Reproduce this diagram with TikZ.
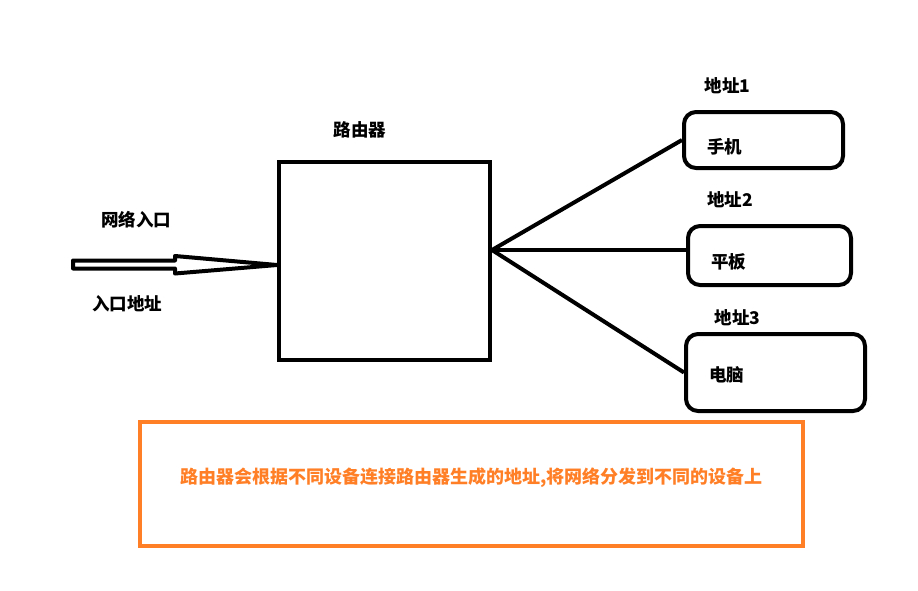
\documentclass[tikz,border=0pt]{standalone}
\usepackage{fontspec}
\setmainfont{Noto Sans CJK SC}
\usepackage{tikz}
\definecolor{noteorange}{RGB}{255,127,39}

\begin{document}
\begin{tikzpicture}
[
x=1pt, y=-1pt,
every node/.style={font=\fontsize{17.5}{20}\selectfont\bfseries, inner sep=2pt},
box/.style={draw, line width=4pt},
device/.style={box, rounded corners=12pt, align=left, inner xsep=23pt, text depth=2pt},
wire/.style={line width=4pt}
]
\useasboundingbox (0,0) rectangle (918,590);

\node[box, minimum width=211pt, minimum height=198pt] (router) at (384.5,261) {};
\node (routerlabel) at (360,130) {路由器};

\node[device, minimum width=159pt, minimum height=56pt, text width=113pt, text height=29pt] (phone) at (763.5,140) {手机};
\node[device, minimum width=163pt, minimum height=59pt, text width=117pt, text height=28pt] (tablet) at (769.5,255.5) {平板};
\node[device, minimum width=179pt, minimum height=77pt, text width=133pt, text height=20pt] (pc) at (775.5,372.5) {电脑};

\node (addr1) at (727.5,86) {地址1};
\node (addr2) at (730,200) {地址2};
\node (addr3) at (737.5,318) {地址3};

\node (inlabel) at (136,220) {网络入口};
\node (inaddr) at (127,304) {入口地址};

% incoming hollow arrow
\coordinate (tip) at (router.west |- 0,265);
\draw[line width=4pt, line join=round] (tip) -- ++(-102,-9) -- ++(0,4.5) -- ++(-102,0)
  -- ++(0,8) -- ++(102,0) -- ++(0,5) -- cycle;

\coordinate (hub) at ([yshift=11pt]router.east);
\draw[wire] (hub) -- (phone.west);
\draw[wire] (hub) -- (hub -| tablet.west);
\draw[wire] (hub) -- (pc.west);

\node[draw=noteorange, text=noteorange, line width=4.5pt, minimum width=663pt, minimum height=124pt, text depth=16pt,
  font=\fontsize{18}{21}\selectfont\bfseries] (note) at (471.5,484)
  {路由器会根据不同设备连接路由器生成的地址,将网络分发到不同的设备上};
\end{tikzpicture}
\end{document}
